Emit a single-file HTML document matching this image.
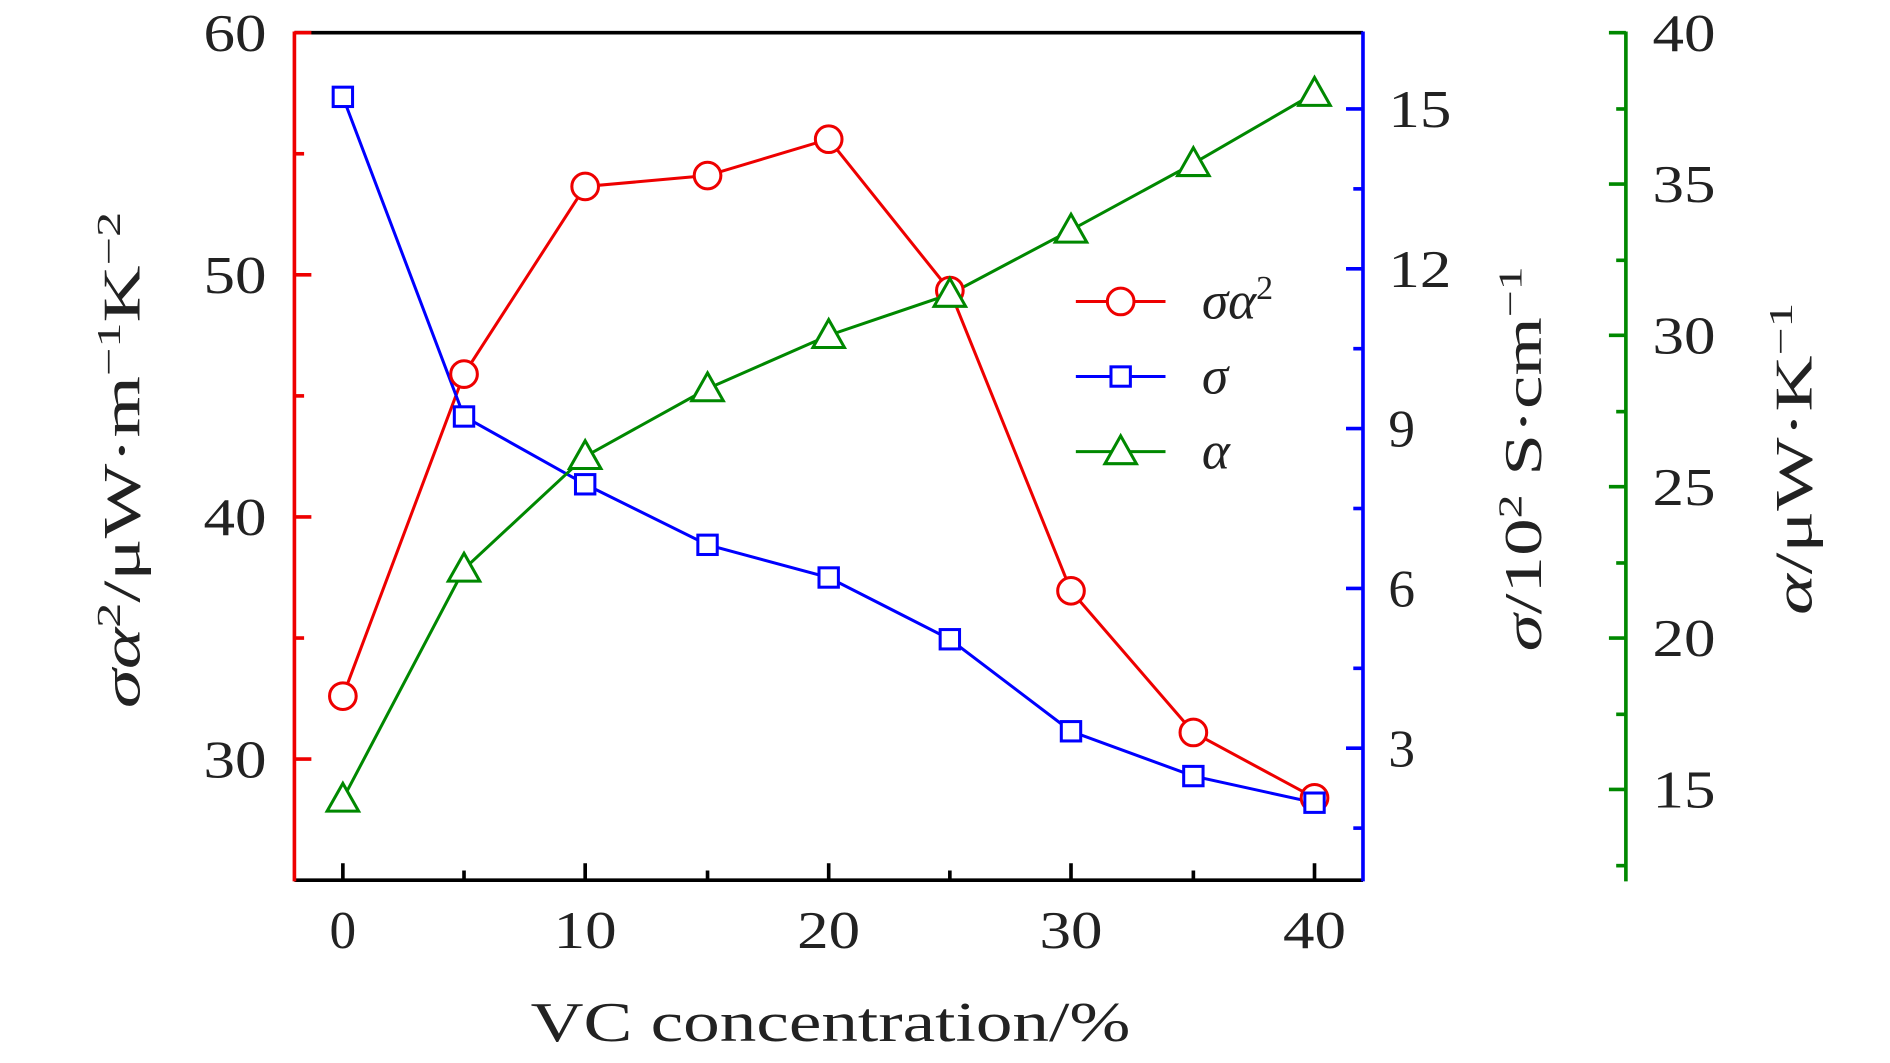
<!DOCTYPE html>
<html><head><meta charset="utf-8"><style>html,body{margin:0;padding:0;background:#fff}svg{display:block}</style></head>
<body>
<svg width="1890" height="1063" viewBox="0 0 1560 878" preserveAspectRatio="none" xmlns="http://www.w3.org/2000/svg" font-family="Liberation Serif, serif">
<rect width="1560" height="878" fill="#fff"/>
<line x1="243" y1="27" x2="1125" y2="27" stroke="#000" stroke-width="3"/>
<line x1="243" y1="727" x2="1125" y2="727" stroke="#000" stroke-width="3"/>
<line x1="243" y1="26" x2="243" y2="728" stroke="#e00" stroke-width="3"/>
<line x1="1125" y1="26" x2="1125" y2="728" stroke="#00f" stroke-width="3"/>
<line x1="1342" y1="26" x2="1342" y2="728" stroke="#080" stroke-width="3"/>
<g stroke="#e00" stroke-width="3">
<line x1="243" y1="27" x2="257" y2="27"/><line x1="243" y1="127" x2="251" y2="127"/><line x1="243" y1="227" x2="257" y2="227"/><line x1="243" y1="327" x2="251" y2="327"/><line x1="243" y1="427" x2="257" y2="427"/><line x1="243" y1="527" x2="251" y2="527"/><line x1="243" y1="627" x2="257" y2="627"/>
</g>
<g stroke="#000" stroke-width="3">
<line x1="283" y1="727" x2="283" y2="713"/><line x1="383" y1="727" x2="383" y2="719"/><line x1="483" y1="727" x2="483" y2="713"/><line x1="584" y1="727" x2="584" y2="719"/><line x1="684" y1="727" x2="684" y2="713"/><line x1="784" y1="727" x2="784" y2="719"/><line x1="884" y1="727" x2="884" y2="713"/><line x1="985" y1="727" x2="985" y2="719"/><line x1="1085" y1="727" x2="1085" y2="713"/>
</g>
<g stroke="#00f" stroke-width="3">
<line x1="1125" y1="90" x2="1111" y2="90"/><line x1="1125" y1="156" x2="1117" y2="156"/><line x1="1125" y1="222" x2="1111" y2="222"/><line x1="1125" y1="288" x2="1117" y2="288"/><line x1="1125" y1="354" x2="1111" y2="354"/><line x1="1125" y1="420" x2="1117" y2="420"/><line x1="1125" y1="486" x2="1111" y2="486"/><line x1="1125" y1="552" x2="1117" y2="552"/><line x1="1125" y1="618" x2="1111" y2="618"/><line x1="1125" y1="684" x2="1117" y2="684"/>
</g>
<g stroke="#080" stroke-width="3">
<line x1="1342" y1="27" x2="1328" y2="27"/><line x1="1342" y1="90" x2="1334" y2="90"/><line x1="1342" y1="152" x2="1328" y2="152"/><line x1="1342" y1="215" x2="1334" y2="215"/><line x1="1342" y1="277" x2="1328" y2="277"/><line x1="1342" y1="340" x2="1334" y2="340"/><line x1="1342" y1="402" x2="1328" y2="402"/><line x1="1342" y1="465" x2="1334" y2="465"/><line x1="1342" y1="527" x2="1328" y2="527"/><line x1="1342" y1="590" x2="1334" y2="590"/><line x1="1342" y1="652" x2="1328" y2="652"/><line x1="1342" y1="715" x2="1334" y2="715"/>
</g>
<g font-size="44" fill="#222" text-anchor="end" lengthAdjust="spacingAndGlyphs">
<text x="220" y="42" textLength="52" lengthAdjust="spacingAndGlyphs">60</text><text x="220" y="242" textLength="52" lengthAdjust="spacingAndGlyphs">50</text><text x="220" y="442" textLength="52" lengthAdjust="spacingAndGlyphs">40</text><text x="220" y="642" textLength="52" lengthAdjust="spacingAndGlyphs">30</text>
</g>
<g font-size="44" fill="#222" text-anchor="middle">
<text x="283" y="783">0</text><text x="483" y="783" textLength="52" lengthAdjust="spacingAndGlyphs">10</text><text x="684" y="783" textLength="52" lengthAdjust="spacingAndGlyphs">20</text><text x="884" y="783" textLength="52" lengthAdjust="spacingAndGlyphs">30</text><text x="1085" y="783" textLength="52" lengthAdjust="spacingAndGlyphs">40</text>
</g>
<g font-size="44" fill="#222" text-anchor="start">
<text x="1146" y="105" textLength="52" lengthAdjust="spacingAndGlyphs">15</text><text x="1146" y="237" textLength="52" lengthAdjust="spacingAndGlyphs">12</text><text x="1146" y="369">9</text><text x="1146" y="501">6</text><text x="1146" y="633">3</text>
<text x="1364" y="42" textLength="52" lengthAdjust="spacingAndGlyphs">40</text><text x="1364" y="167" textLength="52" lengthAdjust="spacingAndGlyphs">35</text><text x="1364" y="292" textLength="52" lengthAdjust="spacingAndGlyphs">30</text><text x="1364" y="417" textLength="52" lengthAdjust="spacingAndGlyphs">25</text><text x="1364" y="542" textLength="52" lengthAdjust="spacingAndGlyphs">20</text><text x="1364" y="667" textLength="52" lengthAdjust="spacingAndGlyphs">15</text>
</g>
<text x="438" y="860" font-size="46" fill="#222" textLength="495" lengthAdjust="spacingAndGlyphs">VC concentration/%</text>
<text transform="translate(115,585) rotate(-90)" font-size="44" fill="#222" textLength="410" lengthAdjust="spacingAndGlyphs"><tspan font-style="italic">σα</tspan><tspan font-size="28" dy="-16">2</tspan><tspan dy="16">/μW·m</tspan><tspan font-size="28" dy="-16">−1</tspan><tspan dy="16">K</tspan><tspan font-size="28" dy="-16">−2</tspan></text>
<text transform="translate(1272,538) rotate(-90)" font-size="44" fill="#222" textLength="318" lengthAdjust="spacingAndGlyphs"><tspan font-style="italic">σ</tspan><tspan>/10</tspan><tspan font-size="28" dy="-16">2</tspan><tspan dy="16"> S·cm</tspan><tspan font-size="28" dy="-16">−1</tspan></text>
<text transform="translate(1495,508) rotate(-90)" font-size="44" fill="#222" textLength="258" lengthAdjust="spacingAndGlyphs"><tspan font-style="italic">α</tspan><tspan>/μW·K</tspan><tspan font-size="28" dy="-16">−1</tspan></text>
<polyline fill="none" stroke="#e00" stroke-width="2.5" points="283,575 383,309 483,154 584,145 684,115 784,240 884,488 985,605 1085,659"/>
<polyline fill="none" stroke="#00f" stroke-width="2.5" points="283,80 383,344 483,400 584,450 684,477 784,528 884,604 985,641 1085,663"/>
<polyline fill="none" stroke="#080" stroke-width="2.5" points="283,660 383,470 483,377 584,321 684,277 784,243 884,190 985,135 1085,77"/>
<g fill="#fff" stroke="#e00" stroke-width="2.5">
<circle cx="283" cy="575" r="11"/><circle cx="383" cy="309" r="11"/><circle cx="483" cy="154" r="11"/><circle cx="584" cy="145" r="11"/><circle cx="684" cy="115" r="11"/><circle cx="784" cy="240" r="11"/><circle cx="884" cy="488" r="11"/><circle cx="985" cy="605" r="11"/><circle cx="1085" cy="659" r="11"/>
</g>
<g fill="#fff" stroke="#00f" stroke-width="2.5">
<rect x="275" y="72" width="16" height="16"/><rect x="375" y="336" width="16" height="16"/><rect x="475" y="392" width="16" height="16"/><rect x="576" y="442" width="16" height="16"/><rect x="676" y="469" width="16" height="16"/><rect x="776" y="520" width="16" height="16"/><rect x="876" y="596" width="16" height="16"/><rect x="977" y="633" width="16" height="16"/><rect x="1077" y="655" width="16" height="16"/>
</g>
<g fill="#fff" stroke="#080" stroke-width="2.5">
<polygon points="283,647 296,670 270,670"/><polygon points="383,457 396,480 370,480"/><polygon points="483,364 496,387 470,387"/><polygon points="584,308 597,331 571,331"/><polygon points="684,264 697,287 671,287"/><polygon points="784,230 797,253 771,253"/><polygon points="884,177 897,200 871,200"/><polygon points="985,122 998,145 972,145"/><polygon points="1085,64 1098,87 1072,87"/>
</g>
<line x1="888" y1="249" x2="962" y2="249" stroke="#e00" stroke-width="2.5"/>
<circle cx="925" cy="249" r="11" fill="#fff" stroke="#e00" stroke-width="2.5"/>
<line x1="888" y1="311" x2="962" y2="311" stroke="#00f" stroke-width="2.5"/>
<rect x="917" y="303" width="16" height="16" fill="#fff" stroke="#00f" stroke-width="2.5"/>
<line x1="888" y1="373" x2="962" y2="373" stroke="#080" stroke-width="2.5"/>
<polygon points="925,360 938,383 912,383" fill="#fff" stroke="#080" stroke-width="2.5"/>
<g font-size="44" fill="#222" font-style="italic">
<text x="992" y="263">σα<tspan font-size="28" dy="-16" font-style="normal">2</tspan></text>
<text x="992" y="325">σ</text>
<text x="992" y="387">α</text>
</g>
</svg>
</body></html>
